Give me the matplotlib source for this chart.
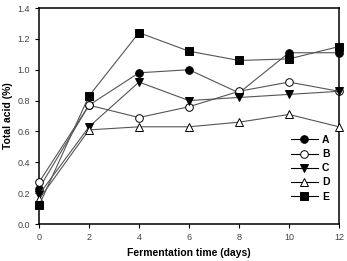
import numpy as np
import matplotlib
matplotlib.use('Agg')
import matplotlib.pyplot as plt

plt.rcParams['font.family'] = 'Liberation Sans'

days = [0, 2, 4, 6, 8, 10, 12]
acid_a = [0.23, 0.77, 0.98, 1.00, 0.85, 1.11, 1.11]
acid_b = [0.27, 0.77, 0.69, 0.76, 0.86, 0.92, 0.86]
acid_c = [0.19, 0.63, 0.92, 0.80, 0.82, 0.84, 0.86]
acid_d = [0.16, 0.61, 0.63, 0.63, 0.66, 0.71, 0.63]
acid_e = [0.12, 0.83, 1.24, 1.12, 1.06, 1.07, 1.15]

series = [
    ('A', acid_a, 'o', 'black'),
    ('B', acid_b, 'o', 'white'),
    ('C', acid_c, 'v', 'black'),
    ('D', acid_d, '^', 'white'),
    ('E', acid_e, 's', 'black'),
]

fig = plt.figure(figsize=(3.47, 2.61), dpi=100)
ax = fig.add_axes([39/347, 1 - 224/261, 300/347, 216/261])

for name, vals, mk, fc in series:
    ax.plot(days, vals, color='#555555', lw=0.8, marker=mk, ms=5.5,
            mfc=fc, mec='black', mew=0.7, clip_on=False, zorder=3, label=name)

ax.set_xlim(0, 12)
ax.set_ylim(0, 1.4)
ax.set_xticks(range(0, 13, 2))
ax.set_yticks(np.arange(0, 1.41, 0.2))
ax.set_yticklabels([f'{v:.1f}' for v in np.arange(0, 1.41, 0.2)])
ax.tick_params(labelsize=6.5, labelcolor='#444444', length=3, width=0.8, direction='out')
for s in ax.spines.values():
    s.set_linewidth(1.1)

ax.set_xlabel('Fermentation time (days)', fontsize=7.5, fontweight='bold', labelpad=4)
ax.set_ylabel('Total acid (%)', fontsize=7.5, fontweight='bold', labelpad=3)

leg = ax.legend(loc='lower right', bbox_to_anchor=(1.0, 0.06), frameon=False,
                handlelength=2.6, labelspacing=0.4, handletextpad=0.4,
                prop={'weight': 'bold', 'size': 7.5})
for h in leg.legend_handles:
    h.set_color('black')
    h.set_markeredgecolor('black')

fig.savefig('out.png', dpi=100, facecolor='white')
